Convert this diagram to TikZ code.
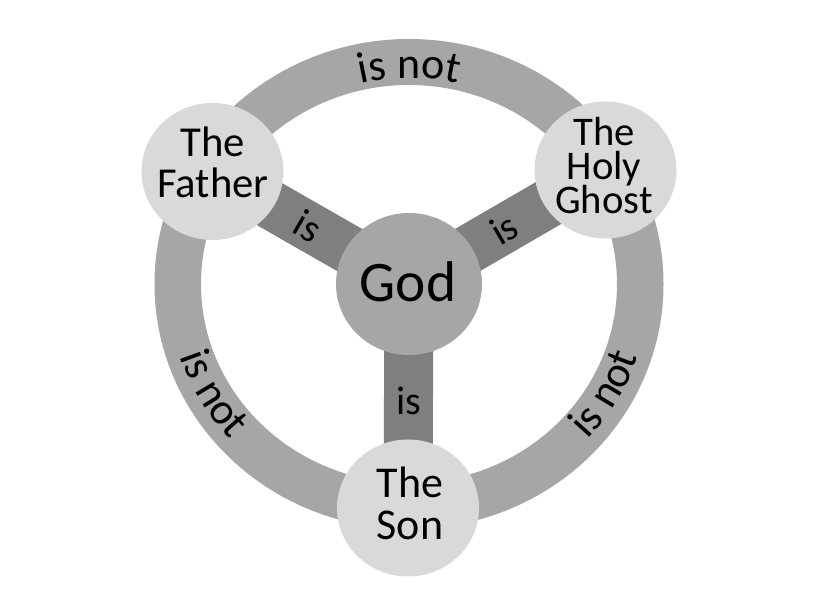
\documentclass[tikz,border=0pt]{standalone}
\usepackage{fontspec}
\setmainfont{Carlito}
\usetikzlibrary{shapes.geometric,decorations.text,backgrounds}
\definecolor{ringgray}{HTML}{A6A6A6}
\definecolor{spokegray}{HTML}{7F7F7F}
\definecolor{godgray}{HTML}{A6A6A6}
\definecolor{persongray}{HTML}{D9D9D9}
\newcommand\isnotfont{\fontsize{33}{36}\selectfont}
\setlength{\lineskiplimit}{-100pt}
\begin{document}
\begin{tikzpicture}[x=0.75pt,y=0.75pt,
  person/.style={ellipse, fill=persongray, minimum width=106.5pt, minimum height=102.75pt, inner sep=0pt},
  godnode/.style={ellipse, fill=godgray, minimum width=109.5pt, minimum height=106.5pt, inner sep=0pt},
  spoke/.style={draw=spokegray, line width=36.75pt},
  lbl/.style={inner sep=0pt, align=center, text=black},
  islbl/.style={inner sep=0pt, text=black, font=\fontsize{30}{32}\selectfont},
  ringtext/.style={decorate, decoration={text along path, text={|\isnotfont|is not}, text align=center}}
]
\useasboundingbox (0,0) rectangle (822,616);
\coordinate (c) at (409,332);

% circles
\node[godnode] (god) at (409,332) {};
\node[person] (father) at (212.5,444.5) {};
\node[person] (ghost) at (605.5,446) {};
\node[person] (son) at (408,108) {};

\begin{scope}[on background layer]
  \fill[ringgray, even odd rule] (c) ellipse [x radius=254.5, y radius=245]
                                 (c) ellipse [x radius=208, y radius=199];
  \draw[spoke] (god.center) -- (father.center);
  \draw[spoke] (god.center) -- (ghost.center);
  \draw[spoke] (god.center) -- (son.center);
\end{scope}

% texts in circles
\node[lbl, font=\fontsize{43}{48}\selectfont, anchor=base] (godtext) at (408,314.5) {God};
\node[lbl, font=\fontsize{32}{30.75}\selectfont] (fathertext) at (213,454) {The\\Father};
\node[lbl, font=\fontsize{30.5}{25.5}\selectfont] (ghosttext) at (604,450.5) {The\\Holy\\Ghost};
\node[lbl, font=\fontsize{33}{31.5}\selectfont] (sontext) at (410,112.5) {The\\Son};

% spoke labels
\node[islbl, rotate=-30] (isfather) at (308,390) {is};
\node[islbl, rotate=30] (isghost) at (504,387) {is};
\node[islbl] (isson) at (409,215) {is};

% ring labels
\path[ringtext] (c) ++(120:214 and 206) arc[start angle=120, end angle=60, x radius=214, y radius=206];
\path[ringtext] (c) ++(180:241 and 232) arc[start angle=180, end angle=240, x radius=241, y radius=232];
\path[ringtext] (c) ++(300:241 and 232) arc[start angle=300, end angle=360, x radius=241, y radius=232];
\end{tikzpicture}
\end{document}
